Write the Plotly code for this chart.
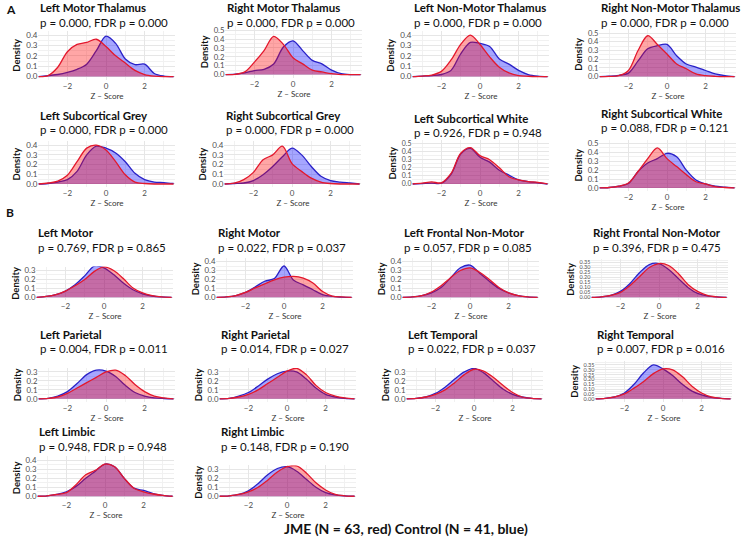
import plotly.graph_objects as go

# ---------------- data ----------------
Z = [-3.5, -3.0, -2.5, -2.0, -1.5, -1.0, -0.5, 0.0, 0.5, 1.0, 1.5, 2.0, 2.5, 3.0, 3.5]
X_TICKS = [-2, 0, 2]

TITLES = ["Left Motor Thalamus", "Right Motor Thalamus", "Left Non-Motor Thalamus", "Right Non-Motor Thalamus",
          "Left Subcortical Grey", "Right Subcortical Grey", "Left Subcortical White", "Right Subcortical White",
          "Left Motor", "Right Motor", "Left Frontal Non-Motor", "Right Frontal Non-Motor",
          "Left Parietal", "Right Parietal", "Left Temporal", "Right Temporal",
          "Left Limbic", "Right Limbic"]
P_VALUES = ["0.000", "0.000", "0.000", "0.000", "0.000", "0.000", "0.926", "0.088",
            "0.769", "0.022", "0.057", "0.396", "0.004", "0.014", "0.022", "0.007", "0.948", "0.148"]
FDR_VALUES = ["0.000", "0.000", "0.000", "0.000", "0.000", "0.000", "0.948", "0.121",
              "0.865", "0.037", "0.085", "0.475", "0.011", "0.027", "0.037", "0.016", "0.948", "0.190"]

# densities (JME = red, Control = blue) read at Z
JME_L_MOTOR_THAL = [0, 0.01, 0.09, 0.24, 0.31, 0.33, 0.36, 0.29, 0.20, 0.13, 0.06, 0.02, 0.005, 0, 0]
CTL_L_MOTOR_THAL = [0, 0.01, 0.02, 0.04, 0.07, 0.12, 0.25, 0.39, 0.32, 0.17, 0.115, 0.12, 0.03, 0.005, 0]
JME_R_MOTOR_THAL = [0, 0.003, 0.03, 0.14, 0.27, 0.43, 0.34, 0.19, 0.12, 0.05, 0.03, 0.01, 0, 0, 0]
CTL_R_MOTOR_THAL = [0, 0.005, 0.02, 0.045, 0.06, 0.12, 0.31, 0.38, 0.27, 0.16, 0.12, 0.05, 0.01, 0, 0]
JME_L_NONMOTOR_THAL = [0, 0.005, 0.015, 0.05, 0.16, 0.31, 0.40, 0.31, 0.19, 0.09, 0.035, 0.01, 0.003, 0, 0]
CTL_L_NONMOTOR_THAL = [0, 0.005, 0.01, 0.02, 0.06, 0.22, 0.33, 0.32, 0.29, 0.17, 0.12, 0.06, 0.02, 0.005, 0]
JME_R_NONMOTOR_THAL = [0, 0.003, 0.01, 0.07, 0.30, 0.47, 0.37, 0.26, 0.145, 0.09, 0.03, 0.01, 0.003, 0, 0]
CTL_R_NONMOTOR_THAL = [0, 0.005, 0.015, 0.04, 0.18, 0.32, 0.355, 0.37, 0.24, 0.145, 0.11, 0.07, 0.03, 0.01, 0]
JME_L_SUB_GREY = [0, 0.01, 0.03, 0.09, 0.23, 0.37, 0.40, 0.35, 0.23, 0.095, 0.02, 0.005, 0, 0, 0]
CTL_L_SUB_GREY = [0, 0.005, 0.02, 0.045, 0.13, 0.30, 0.39, 0.37, 0.32, 0.23, 0.11, 0.045, 0.02, 0.015, 0.005]
JME_R_SUB_GREY = [0, 0.01, 0.045, 0.12, 0.25, 0.30, 0.39, 0.21, 0.13, 0.06, 0.02, 0.005, 0, 0, 0]
CTL_R_SUB_GREY = [0, 0.005, 0.01, 0.035, 0.095, 0.18, 0.28, 0.37, 0.30, 0.18, 0.08, 0.035, 0.02, 0.01, 0]
JME_L_SUB_WHITE = [0, 0.01, 0.025, 0.015, 0.13, 0.38, 0.45, 0.35, 0.30, 0.20, 0.09, 0.05, 0.03, 0.02, 0]
CTL_L_SUB_WHITE = [0, 0.005, 0.01, 0.01, 0.12, 0.37, 0.44, 0.33, 0.27, 0.17, 0.11, 0.05, 0.03, 0.015, 0]
JME_R_SUB_WHITE = [0, 0.005, 0.02, 0.055, 0.185, 0.33, 0.45, 0.33, 0.24, 0.15, 0.07, 0.045, 0.015, 0.005, 0]
CTL_R_SUB_WHITE = [0, 0.005, 0.02, 0.05, 0.185, 0.28, 0.33, 0.39, 0.35, 0.20, 0.09, 0.045, 0.02, 0.01, 0]
JME_L_MOTOR = [0, 0.01, 0.03, 0.07, 0.13, 0.20, 0.29, 0.34, 0.30, 0.21, 0.105, 0.05, 0.02, 0.005, 0]
CTL_L_MOTOR = [0, 0.01, 0.03, 0.07, 0.14, 0.24, 0.35, 0.33, 0.255, 0.16, 0.085, 0.04, 0.015, 0.005, 0]
JME_R_MOTOR = [0, 0.005, 0.02, 0.055, 0.105, 0.15, 0.195, 0.225, 0.235, 0.215, 0.16, 0.065, 0.015, 0.005, 0]
CTL_R_MOTOR = [0, 0.005, 0.02, 0.055, 0.115, 0.18, 0.21, 0.35, 0.19, 0.14, 0.085, 0.03, 0.01, 0.003, 0]
JME_L_FRONTAL_NM = [0, 0.005, 0.02, 0.06, 0.13, 0.22, 0.30, 0.33, 0.28, 0.20, 0.11, 0.05, 0.02, 0.005, 0]
CTL_L_FRONTAL_NM = [0, 0.005, 0.02, 0.05, 0.11, 0.22, 0.33, 0.36, 0.27, 0.18, 0.10, 0.05, 0.02, 0.005, 0]
JME_R_FRONTAL_NM = [0, 0.005, 0.02, 0.05, 0.12, 0.21, 0.30, 0.34, 0.32, 0.24, 0.13, 0.06, 0.02, 0.005, 0]
CTL_R_FRONTAL_NM = [0, 0.005, 0.02, 0.06, 0.14, 0.25, 0.33, 0.34, 0.28, 0.19, 0.10, 0.04, 0.015, 0.005, 0]
JME_L_PARIETAL = [0, 0.005, 0.02, 0.06, 0.12, 0.18, 0.24, 0.30, 0.32, 0.26, 0.16, 0.08, 0.03, 0.01, 0]
CTL_L_PARIETAL = [0, 0.005, 0.03, 0.08, 0.17, 0.27, 0.32, 0.31, 0.25, 0.15, 0.07, 0.03, 0.01, 0.003, 0]
JME_R_PARIETAL = [0, 0.005, 0.02, 0.05, 0.10, 0.17, 0.24, 0.31, 0.34, 0.27, 0.15, 0.07, 0.03, 0.01, 0]
CTL_R_PARIETAL = [0, 0.005, 0.03, 0.07, 0.14, 0.22, 0.28, 0.31, 0.30, 0.22, 0.12, 0.05, 0.02, 0.005, 0]
JME_L_TEMPORAL = [0, 0.005, 0.02, 0.05, 0.10, 0.18, 0.27, 0.33, 0.31, 0.24, 0.15, 0.07, 0.02, 0.005, 0]
CTL_L_TEMPORAL = [0, 0.005, 0.02, 0.06, 0.13, 0.22, 0.30, 0.34, 0.29, 0.20, 0.11, 0.05, 0.02, 0.005, 0]
JME_R_TEMPORAL = [0, 0.005, 0.02, 0.05, 0.11, 0.18, 0.26, 0.31, 0.30, 0.23, 0.13, 0.06, 0.02, 0.005, 0]
CTL_R_TEMPORAL = [0, 0.005, 0.02, 0.06, 0.15, 0.27, 0.35, 0.31, 0.24, 0.15, 0.08, 0.04, 0.015, 0.005, 0]
JME_L_LIMBIC = [0, 0.005, 0.02, 0.04, 0.13, 0.24, 0.29, 0.36, 0.33, 0.20, 0.09, 0.05, 0.025, 0.01, 0]
CTL_L_LIMBIC = [0, 0.005, 0.02, 0.05, 0.11, 0.20, 0.28, 0.36, 0.33, 0.20, 0.09, 0.065, 0.03, 0.01, 0]
JME_R_LIMBIC = [0, 0.005, 0.02, 0.05, 0.10, 0.18, 0.27, 0.33, 0.34, 0.26, 0.15, 0.07, 0.02, 0.005, 0]
CTL_R_LIMBIC = [0, 0.005, 0.02, 0.06, 0.14, 0.24, 0.31, 0.33, 0.28, 0.19, 0.10, 0.04, 0.015, 0.005, 0]

JME = [JME_L_MOTOR_THAL, JME_R_MOTOR_THAL, JME_L_NONMOTOR_THAL, JME_R_NONMOTOR_THAL,
       JME_L_SUB_GREY, JME_R_SUB_GREY, JME_L_SUB_WHITE, JME_R_SUB_WHITE,
       JME_L_MOTOR, JME_R_MOTOR, JME_L_FRONTAL_NM, JME_R_FRONTAL_NM,
       JME_L_PARIETAL, JME_R_PARIETAL, JME_L_TEMPORAL, JME_R_TEMPORAL, JME_L_LIMBIC, JME_R_LIMBIC]
CTL = [CTL_L_MOTOR_THAL, CTL_R_MOTOR_THAL, CTL_L_NONMOTOR_THAL, CTL_R_NONMOTOR_THAL,
       CTL_L_SUB_GREY, CTL_R_SUB_GREY, CTL_L_SUB_WHITE, CTL_R_SUB_WHITE,
       CTL_L_MOTOR, CTL_R_MOTOR, CTL_L_FRONTAL_NM, CTL_R_FRONTAL_NM,
       CTL_L_PARIETAL, CTL_R_PARIETAL, CTL_L_TEMPORAL, CTL_R_TEMPORAL, CTL_L_LIMBIC, CTL_R_LIMBIC]

# ---------------- layout (pixels) ----------------
W, H = 744, 543
# (x of z=0, y of density 0, top tick value, y of top tick, tick step, title y)
PANELS = [
    (106, 76, 0.4, 34.3, 0.1, 7), (293, 74, 0.5, 29.3, 0.1, 7),
    (480, 76, 0.4, 34.3, 0.1, 7), (667, 76, 0.5, 32.3, 0.1, 7),
    (106, 184, 0.4, 145, 0.1, 115), (292, 184, 0.4, 145, 0.1, 115),
    (480, 184, 0.5, 143.3, 0.1, 118), (667, 188, 0.5, 143.3, 0.1, 113),
    (104, 298, 0.3, 271, 0.1, 233), (284, 298, 0.4, 262, 0.1, 233),
    (470, 298, 0.4, 262, 0.1, 233), (659, 298, 0.35, 263, 0.05, 233),
    (106, 400, 0.3, 373, 0.1, 335), (287, 400, 0.3, 373, 0.1, 335),
    (474, 400, 0.3, 373, 0.1, 335), (663, 400, 0.35, 366, 0.05, 335),
    (105, 498, 0.4, 462, 0.1, 433), (287, 498, 0.3, 471, 0.1, 433),
]
SX = 19.3
XR = [-3.5, 3.6]

RED_LINE, BLUE_LINE = "#E3182D", "#2A22C8"
RED_FILL, BLUE_FILL = "rgba(255,0,0,0.35)", "rgba(0,0,255,0.35)"
FONT = "Lato"

fig = go.Figure()
layout = dict(width=W, height=H, margin=dict(l=0, r=0, t=0, b=0),
              paper_bgcolor="white", plot_bgcolor="white", showlegend=False,
              font=dict(family=FONT, color="#4D4D4D"))
annotations = []

for i, (x0, base, tv, tpx, dt, ty) in enumerate(PANELS):
    k = i + 1
    xa, ya = ("x" if k == 1 else f"x{k}"), ("y" if k == 1 else f"y{k}")
    left, right = x0 + XR[0] * SX, x0 + XR[1] * SX
    sy = (base - tpx) / tv
    top, bot = tpx - 4, base + 3
    yr = [-(bot - base) / sy, tv + (tpx - top) / sy]
    spacing = sy * dt
    yfont = 5.5 if dt < 0.1 else min(8, spacing - 1.2)

    for ys, lc, fc in ((CTL[i], BLUE_LINE, BLUE_FILL), (JME[i], RED_LINE, RED_FILL)):
        fig.add_trace(go.Scatter(x=Z, y=ys, xaxis=xa, yaxis=ya, mode="lines",
                                 line=dict(color=lc, width=1.3, shape="spline", smoothing=0.9),
                                 fill="tozeroy", fillcolor=fc, hoverinfo="skip"))

    layout["xaxis" if k == 1 else f"xaxis{k}"] = dict(
        domain=[left / W, right / W], anchor=ya, range=XR, tickvals=X_TICKS,
        showgrid=True, gridcolor="#E6E6E6", gridwidth=1, zeroline=False, showline=False,
        ticks="", tickfont=dict(size=8, color="#4D4D4D"),
        minor=dict(dtick=1, tick0=1, showgrid=True, gridcolor="#F1F1F1", gridwidth=1),
        title=dict(text="Z – Score", font=dict(size=8, color="#333333"), standoff=0))
    layout["yaxis" if k == 1 else f"yaxis{k}"] = dict(
        domain=[1 - bot / H, 1 - top / H], anchor=xa, range=yr, dtick=dt, tick0=0,
        tickformat=".2f" if dt < 0.1 else ".1f",
        showgrid=True, gridcolor="#E6E6E6", gridwidth=1, zeroline=False, showline=False,
        ticks="", tickfont=dict(size=yfont, color="#4D4D4D"),
        minor=dict(dtick=dt / 2, showgrid=True, gridcolor="#F1F1F1", gridwidth=1),
        title=dict(text="<b>Density</b>", font=dict(size=9.5, color="#111111"), standoff=3))

    annotations.append(dict(x=left / W, y=1 - ty / H, xref="paper", yref="paper",
                            xanchor="left", yanchor="middle", showarrow=False,
                            text=f"<b>{TITLES[i]}</b>", font=dict(size=11.5, color="#111111", family=FONT)))
    annotations.append(dict(x=left / W, y=1 - (ty + 14.5) / H, xref="paper", yref="paper",
                            xanchor="left", yanchor="middle", showarrow=False,
                            text=f"p = {P_VALUES[i]}, FDR p = {FDR_VALUES[i]}",
                            font=dict(size=11.5, color="#111111", family=FONT)))

annotations.append(dict(x=4 / W, y=1 - 9 / H, xref="paper", yref="paper", xanchor="left",
                        yanchor="middle", showarrow=False, text="<b>A</b>",
                        font=dict(size=12, color="#111111", family=FONT)))
annotations.append(dict(x=4 / W, y=1 - 213 / H, xref="paper", yref="paper", xanchor="left",
                        yanchor="middle", showarrow=False, text="<b>B</b>",
                        font=dict(size=12, color="#111111", family=FONT)))
annotations.append(dict(x=406 / W, y=1 - 530 / H, xref="paper", yref="paper", xanchor="center",
                        yanchor="middle", showarrow=False,
                        text="<b>JME (N = 63, red) Control (N = 41, blue)</b>",
                        font=dict(size=14, color="#111111", family=FONT)))
layout["annotations"] = annotations
fig.update_layout(**layout)
fig.write_html("out.html")
